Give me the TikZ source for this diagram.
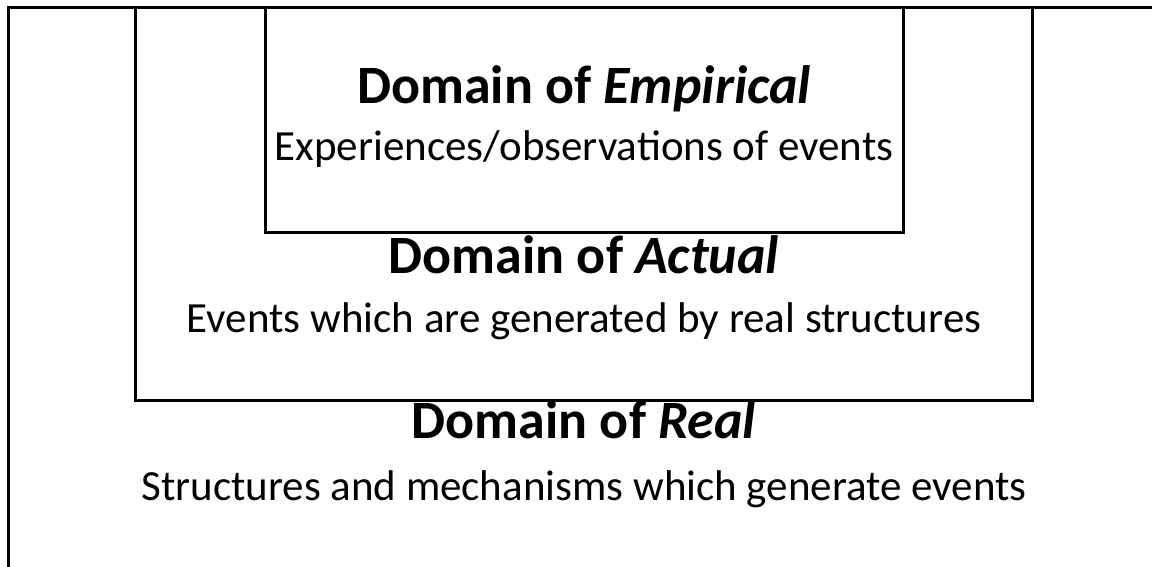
\documentclass[tikz,border=0pt]{standalone}
\usepackage{fontspec}
\setmainfont{Carlito}
\begin{document}
\begin{tikzpicture}[x=0.5pt,y=-0.5pt,
  frame/.style={draw=black,line width=1.5pt},
  domtitle/.style={anchor=base,inner sep=0pt,font=\fontsize{27}{32}\selectfont\bfseries},
  domtext/.style={anchor=base,inner sep=0pt,font=\fontsize{21.5}{26}\selectfont}]
\useasboundingbox (0,0) rectangle (1152,567);
\clip (0,0) rectangle (1152,567);
% nested domains: real (outermost), actual, empirical
\draw[frame] (8,700) -- (8,8) -- (1250,8) -- (1250,700);
\draw[frame] (135,8) rectangle (1032,400);
\draw[frame] (265,8) rectangle (903,232);
% empirical
\node[domtitle] (emp) at (584,104) {Domain of \textit{Empirical}};
\node[domtext] (empd) at (584,161) {Experiences/observations of events};
% actual
\node[domtitle] (act) at (584,273) {Domain of \textit{Actual}};
\node[domtext] (actd) at (584,332) {Events which are generated by real structures};
% real
\node[domtitle] (real) at (584,438) {Domain of \textit{Real}};
\node[domtext] (reald) at (584,500) {Structures and mechanisms which generate events};
\end{tikzpicture}
\end{document}
